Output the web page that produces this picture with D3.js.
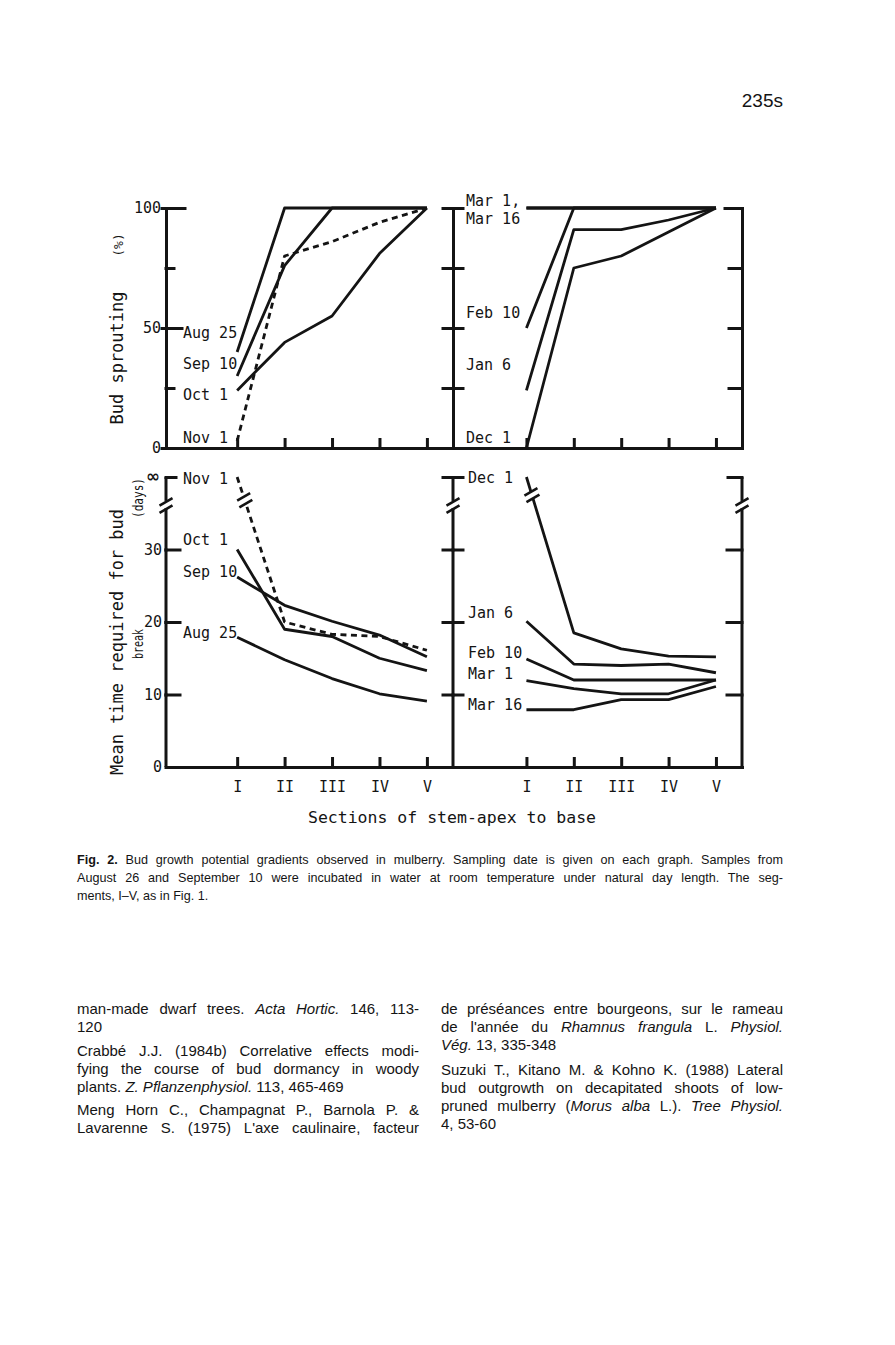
<!DOCTYPE html>
<html>
<head>
<meta charset="utf-8">
<script src="https://cdn.jsdelivr.net/npm/d3@7"></script>
<style>
  body { margin: 0; background: #fff; }
  svg { display: block; }
</style>
</head>
<body>
<script>
// ---- data ----
var sections = ["I", "II", "III", "IV", "V"];
var sectionIdx = [1, 2, 3, 4, 5];

// bud sprouting (%), left panel
var sproutAug25 = [40, 100, 100, 100, 100];
var sproutSep10 = [30, 76, 100, 100, 100];
var sproutOct1 = [24, 44, 55, 81, 100];
var sproutNov1 = [3, 80, 86, 94, 100];
// bud sprouting (%), right panel
var sproutDec1 = [0, 75, 80, 90, 100];
var sproutJan6 = [24, 91, 91, 95, 100];
var sproutFeb10 = [50, 100, 100, 100, 100];
var sproutMar1 = [100, 100, 100, 100, 100];
var sproutMar16 = [100, 100, 100, 100, 100];

// mean time required for bud break (days), Infinity = no break
var daysAug25 = [17.9, 14.8, 12.2, 10.1, 9.1];
var daysSep10 = [26.2, 22.3, 20.1, 18.2, 15.2];
var daysOct1 = [30, 19, 18, 15, 13.3];
var daysNov1 = [Infinity, 20, 18.3, 18, 16.1];
var daysDec1 = [Infinity, 18.5, 16.3, 15.3, 15.2];
var daysJan6 = [20.1, 14.2, 14.0, 14.2, 13.0];
var daysFeb10 = [14.9, 12.0, 12.0, 12.0, 12.0];
var daysMar1 = [11.9, 10.8, 10.1, 10.1, 12.0];
var daysMar16 = [7.9, 7.9, 9.3, 9.3, 11.1];

var sproutTicks = [0, 50, 100];
var daysTicks = [0, 10, 20, 30];

var INK = "#141414";
var MONO = "'DejaVu Sans Mono', monospace";
var SANS = "'Liberation Sans', Arial, sans-serif";

var svg = d3.select("body").append("svg")
    .attr("width", 895)
    .attr("height", 1345);

var xL = d3.scaleLinear().domain([-0.5, 5.55]).range([166, 453]);
var xR = d3.scaleLinear().domain([-0.55, 5.55]).range([453, 742]);
var yTop = d3.scaleLinear().domain([0, 100]).range([448, 208]);
var yBot = d3.scaleLinear().domain([0, 40]).range([767, 477]);
var INF_AT = 40;   // "infinite" values sit on the top of the lower panels
function yb(v) { return yBot(isFinite(v) ? v : INF_AT); }

// ---- axes ----
function styleAxis(g, fs) {
  g.attr("font-family", MONO).attr("font-size", fs || 15).attr("color", INK);
  g.selectAll("line, path").attr("stroke-width", 3).attr("stroke-linecap", "square");
  return g;
}

function yAxis(scale, x, side, values, size, labels, keepDomain) {
  var ax = (side == "left" ? d3.axisLeft(scale) : d3.axisRight(scale))
      .tickValues(values).tickSize(size).tickSizeOuter(0);
  if (labels) ax.tickPadding(labels); else ax.tickFormat("");
  var g = svg.append("g").attr("transform", "translate(" + x + ",0)").call(ax);
  styleAxis(g);
  if (!keepDomain) g.select(".domain").remove();
  return g;
}

function xAxis(scale, y, labels) {
  var ax = d3.axisBottom(scale).tickValues(sectionIdx).tickSize(-10).tickSizeOuter(0);
  if (labels) ax.tickPadding(14).tickFormat(function (d) { return sections[d - 1]; });
  else ax.tickFormat("");
  var g = svg.append("g").attr("transform", "translate(0," + y + ")").call(ax);
  styleAxis(g);
  g.selectAll(".tick line").attr("stroke-linecap", "butt");
  return g;
}

function slash(cx, cy, len) {
  var dx = len / 2 * Math.cos(Math.PI / 6), dy = len / 2 * Math.sin(Math.PI / 6);
  svg.append("line")
      .attr("x1", cx - dx).attr("y1", cy + dy)
      .attr("x2", cx + dx).attr("y2", cy - dy)
      .attr("stroke", INK).attr("stroke-width", 2.6);
}

// broken vertical axis of the lower panels
function brokenAxis(x) {
  svg.append("line").attr("x1", x).attr("x2", x)
      .attr("y1", yBot(40)).attr("y2", yBot(36.7))
      .attr("stroke", INK).attr("stroke-width", 3);
  svg.append("line").attr("x1", x).attr("x2", x)
      .attr("y1", yBot(35.7)).attr("y2", yBot(0))
      .attr("stroke", INK).attr("stroke-width", 3);
  slash(x, yBot(36.7) + 1, 15);
  slash(x, yBot(35.7) + 1, 15);
}

// upper panels
yAxis(yTop, 166, "left", sproutTicks, 4, 1, true);
yAxis(yTop, 166, "right", [25, 75], 8);
yAxis(yTop, 166, "right", [50], 16);
yAxis(yTop, 166, "right", [100], 19);
yAxis(yTop, 453, "left", [25, 50, 75, 100], 10, 0, true);
yAxis(yTop, 453, "right", [25, 50, 75, 100], 10);
yAxis(yTop, 742, "left", [25, 50, 75], 13, 0, true);
yAxis(yTop, 742, "left", [100], 17);
xAxis(xL, 448, false);
xAxis(xR, 448, false);

// lower panels
brokenAxis(166);
brokenAxis(453);
brokenAxis(742);
yAxis(yBot, 166, "left", daysTicks, 0, 4);
yAxis(yBot, 166, "right", [10, 20, 30], 14);
yAxis(yBot, 166, "right", [INF_AT], 10);
yAxis(yBot, 453, "left", [10, 20, 30, INF_AT], 10);
yAxis(yBot, 453, "right", [10, 20, 30, INF_AT], 10);
yAxis(yBot, 742, "left", [10, 20, 30], 15);
yAxis(yBot, 742, "left", [INF_AT], 14);
xAxis(xL, 767, true);
xAxis(xR, 767, true);

svg.append("text")
    .attr("x", 153).attr("y", 482)
    .attr("text-anchor", "middle")
    .attr("font-family", "'DejaVu Sans', sans-serif")
    .attr("font-weight", "bold").attr("font-size", 17)
    .attr("fill", INK)
    .text("\u221e");

// ---- series ----
function drawSeries(x, yfn, values, dashed) {
  var line = d3.line()
      .x(function (d, i) { return x(sectionIdx[i]); })
      .y(function (d) { return yfn(d); });
  svg.append("path")
      .datum(values)
      .attr("d", line)
      .attr("fill", "none")
      .attr("stroke", INK)
      .attr("stroke-width", 2.8)
      .attr("stroke-linejoin", "round")
      .attr("stroke-dasharray", dashed ? "6,4.5" : null);
}

// break symbol on a line going from the infinite point down to section II
function lineBreak(x, values, at) {
  var x0 = x(1), y0 = yb(values[0]), x1 = x(2), y1 = yb(values[1]);
  var yc = yBot(at), t = (yc - y0) / (y1 - y0), cx = x0 + t * (x1 - x0);
  var len = Math.hypot(x1 - x0, y1 - y0), ux = (x1 - x0) / len, uy = (y1 - y0) / len;
  svg.append("line")
      .attr("x1", cx - 3 * ux).attr("y1", yc - 3 * uy)
      .attr("x2", cx + 3 * ux).attr("y2", yc + 3 * uy)
      .attr("stroke", "#fff").attr("stroke-width", 8);
  slash(cx - 3.5 * ux, yc - 3.5 * uy, 15);
  slash(cx + 3.5 * ux, yc + 3.5 * uy, 15);
}

drawSeries(xL, yTop, sproutAug25);
drawSeries(xL, yTop, sproutSep10);
drawSeries(xL, yTop, sproutOct1);
drawSeries(xL, yTop, sproutNov1, true);

drawSeries(xR, yTop, sproutDec1);
drawSeries(xR, yTop, sproutJan6);
drawSeries(xR, yTop, sproutFeb10);
drawSeries(xR, yTop, sproutMar1);
drawSeries(xR, yTop, sproutMar16);

drawSeries(xL, yb, daysAug25);
drawSeries(xL, yb, daysSep10);
drawSeries(xL, yb, daysOct1);
drawSeries(xL, yb, daysNov1, true);
lineBreak(xL, daysNov1, 36.8);

drawSeries(xR, yb, daysDec1);
drawSeries(xR, yb, daysJan6);
drawSeries(xR, yb, daysFeb10);
drawSeries(xR, yb, daysMar1);
drawSeries(xR, yb, daysMar16);
lineBreak(xR, daysDec1, 37.5);

// ---- series labels ----
var labels = [
  ["Aug 25", 183, 338], ["Sep 10", 183, 369], ["Oct 1", 183, 400], ["Nov 1", 183, 443],
  ["Mar 1,", 466, 206], ["Mar 16", 466, 224], ["Feb 10", 466, 318], ["Jan 6", 466, 370], ["Dec 1", 466, 443],
  ["Nov 1", 183, 484], ["Oct 1", 183, 545], ["Sep 10", 183, 577], ["Aug 25", 183, 638],
  ["Dec 1", 468, 483], ["Jan 6", 468, 618], ["Feb 10", 468, 658], ["Mar 1", 468, 679], ["Mar 16", 468, 710]
];
svg.append("g").selectAll("text")
    .data(labels).enter().append("text")
    .attr("x", function (d) { return d[1]; })
    .attr("y", function (d) { return d[2]; })
    .attr("font-family", MONO).attr("font-size", 15).attr("fill", INK)
    .text(function (d) { return d[0]; });

// ---- axis titles ----
function vtext(str, x, y, fs, tl) {
  var t = svg.append("text")
      .attr("transform", "translate(" + x + "," + y + ") rotate(-90)")
      .attr("text-anchor", "middle")
      .attr("font-family", MONO).attr("font-size", fs).attr("fill", INK)
      .text(str);
  if (tl) t.attr("textLength", tl).attr("lengthAdjust", "spacingAndGlyphs");
  return t;
}
vtext("Bud sprouting", 123, 358, 17);
vtext("(%)", 123, 245, 13);
vtext("Mean time required for bud", 123, 642, 17);
vtext("break", 143, 644, 14, 30);
vtext("(days)", 143, 498, 14, 40);

svg.append("text")
    .attr("x", 452).attr("y", 823)
    .attr("text-anchor", "middle")
    .attr("font-family", MONO).attr("font-size", 16.5).attr("fill", INK)
    .text("Sections of stem-apex to base");

// ---- page text ----
svg.append("text")
    .attr("x", 783).attr("y", 107)
    .attr("text-anchor", "end")
    .attr("font-family", SANS).attr("font-size", 19).attr("fill", INK)
    .text("235s");

// *italic*  #bold#
function richLine(str, x, y, fs, width) {
  var t = svg.append("text")
      .attr("x", x).attr("y", y)
      .attr("font-family", SANS).attr("font-size", fs).attr("fill", INK);
  str.split(/(\*[^*]+\*|#[^#]+#)/).forEach(function (p) {
    if (!p) return;
    var s = t.append("tspan");
    if (p[0] == "*") s.attr("font-style", "italic").text(p.slice(1, -1));
    else if (p[0] == "#") s.attr("font-weight", "bold").text(p.slice(1, -1));
    else s.text(p);
  });
  if (width) {
    var len = t.node().getComputedTextLength();
    var n = (t.text().match(/ /g) || []).length;
    if (n) t.attr("word-spacing", ((width - len) / n) + "px");
  }
  return t;
}

var captionLines = [
  ["#Fig. 2.# Bud growth potential gradients observed in mulberry. Sampling date is given on each graph. Samples from", 864, true],
  ["August 26 and September 10 were incubated in water at room temperature under natural day length. The seg-", 882, true],
  ["ments, I\u2013V, as in Fig. 1.", 900, false]
];
captionLines.forEach(function (d) { richLine(d[0], 77, d[1], 12.6, d[2] ? 706 : 0); });

var refsLeft = [
  ["man-made dwarf trees. *Acta Hortic.* 146, 113-", 1014, true],
  ["120", 1032, false],
  ["Crabb\u00e9 J.J. (1984b) Correlative effects modi-", 1056, true],
  ["fying the course of bud dormancy in woody", 1074, true],
  ["plants. *Z. Pflanzenphysiol.* 113, 465-469", 1092, false],
  ["Meng Horn C., Champagnat P., Barnola P. &", 1115, true],
  ["Lavarenne S. (1975) L'axe caulinaire, facteur", 1133, true]
];
var refsRight = [
  ["de pr\u00e9s\u00e9ances entre bourgeons, sur le rameau", 1014, true],
  ["de l'ann\u00e9e du *Rhamnus frangula* L. *Physiol.*", 1032, true],
  ["*V\u00e9g.* 13, 335-348", 1050, false],
  ["Suzuki T., Kitano M. & Kohno K. (1988) Lateral", 1075, true],
  ["bud outgrowth on decapitated shoots of low-", 1093, true],
  ["pruned mulberry (*Morus alba* L.). *Tree Physiol.*", 1111, true],
  ["4, 53-60", 1129, false]
];
refsLeft.forEach(function (d) { richLine(d[0], 77, d[1], 15, d[2] ? 342 : 0); });
refsRight.forEach(function (d) { richLine(d[0], 441, d[1], 15, d[2] ? 342 : 0); });
</script>
</body>
</html>
